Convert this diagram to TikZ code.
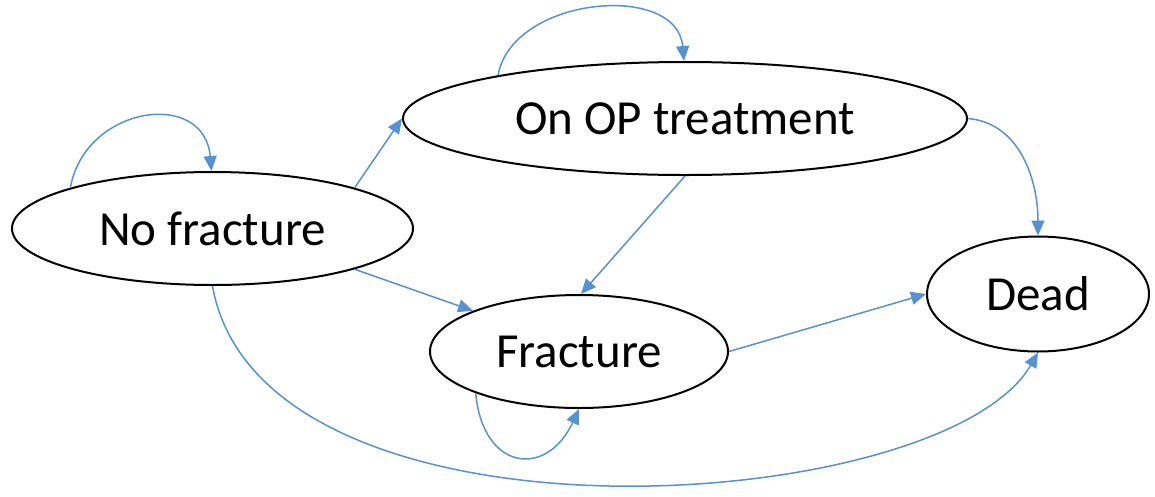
\documentclass[tikz,border=0pt]{standalone}
\usepackage{fontspec}
\setmainfont{Carlito}
\usepackage{tikz}
\usetikzlibrary{shapes,arrows.meta}
\definecolor{linkblue}{RGB}{86,146,208}
\tikzset{
    state/.style = {draw, 
                    ellipse, 
                    line width=2pt,
                    inner sep=0pt,
                    minimum height=113pt,
                    font=\fontsize{49}{59}\selectfont
    },
    link/.style = {draw=linkblue,
                   line width=1.5pt,
                   -{Triangle[length=15pt,width=13pt]}
    }
}
\begin{document}
\begin{tikzpicture}[x=1pt,y=1pt]
    \useasboundingbox (0,0) rectangle (1155,-496);

    \node [state,minimum width=401pt] at (212.5,-228.5) (nofrac)  {No fracture};
    \node [state,minimum width=564pt] at (685,-118.5)   (optreat) {On OP treatment};
    \node [state,minimum width=298pt] at (579,-351.5)   (frac)    {Fracture};
    \node [state,minimum width=222pt,
           minimum height=115pt]      at (1038,-294)    (dead)    {Dead};

    \draw[link] (nofrac.164)  to[out=80,in=95,looseness=1.5]   (nofrac.91);
    \draw[link] (nofrac.16)   --                               (optreat.west);
    \draw[link] (nofrac.-16)  --                               (frac.159);
    \draw[link] (nofrac.south) .. controls +(-80:280) and +(-120:190) .. (dead.south);
    \draw[link] (optreat.167) to[out=80,in=95,looseness=1.1]   (optreat.91);
    \draw[link] (optreat.south) --                             (frac.88);
    \draw[link] (optreat.east) to[out=-5,in=90]                (dead.north);
    \draw[link] (frac.east)   --                               (dead.west);
    \draw[link] (frac.-158)   to[out=-85,in=-115,looseness=1.9] (frac.south);
\end{tikzpicture}
\end{document}
